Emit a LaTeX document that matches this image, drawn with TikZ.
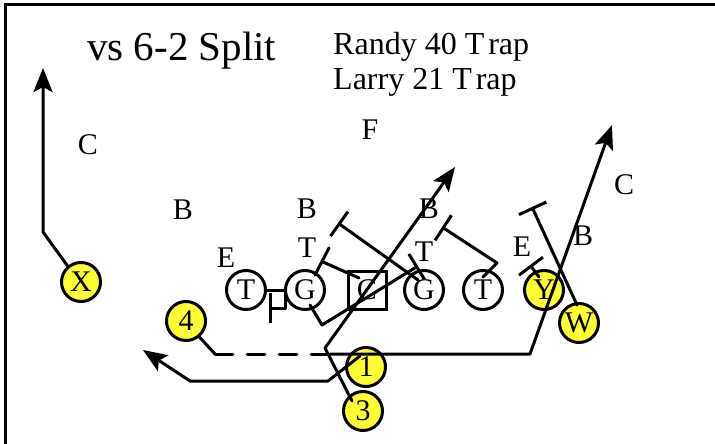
\documentclass[tikz,border=0pt]{standalone}
\usepackage{fontspec}
\setmainfont{Liberation Serif}
\usetikzlibrary{arrows.meta}
\definecolor{plyellow}{RGB}{255,255,51}
\tikzset{
  x=1pt, y=-1pt,
  route/.style={line width=3pt, line cap=round, line join=round},
  arr/.style={route, -{Stealth[length=24pt,width=19pt,inset=5pt]}},
  blk/.style={route, -{Bar[width=30pt]}},
  lbl/.style={font=\fontsize{30}{32}\selectfont, inner sep=0pt},
  lineman/.style={circle, draw, line width=3pt, fill=white, minimum size=39pt, inner sep=0pt, font=\fontsize{30}{32}\selectfont},
  ctr/.style={rectangle, draw, line width=3pt, fill=white, minimum size=38pt, inner sep=0pt, font=\fontsize{30}{32}\selectfont},
  back/.style={lineman, fill=plyellow},
}
\begin{document}
\begin{tikzpicture}
\useasboundingbox (0,0) rectangle (715,444);
% frame
\coordinate (f1) at (5.5,444);
\coordinate (f2) at (5.5,5);
\coordinate (f3) at (715,5);
\draw[line width=3pt] (f1) -- (f2) -- (f3);
% titles
\node[anchor=base west, inner sep=0pt, font=\fontsize{41}{44}\selectfont] (title) at (87,60) {vs 6-2 Split};
\node[anchor=base west, inner sep=0pt, font=\fontsize{32}{34}\selectfont] (play1) at (333,55) {Randy 40 T\kern4pt rap};
\node[anchor=base west, inner sep=0pt, font=\fontsize{32}{34}\selectfont] (play2) at (333,89) {Larry 21 T\kern4pt rap};
% defense labels
\node[lbl] (dC1) at (88,145) {C};
\node[lbl] (dF) at (370,130) {F};
\node[lbl] (dB1) at (183,210) {B};
\node[lbl] (dB2) at (307,209) {B};
\node[lbl] (dB3) at (429,209) {B};
\node[lbl] (dB4) at (583,236) {B};
\node[lbl] (dC2) at (624,185) {C};
\node[lbl] (dE1) at (226,258) {E};
\node[lbl] (dT1) at (307,248) {T};
\node[lbl] (dT2) at (424,252) {T};
\node[lbl] (dE2) at (522,247) {E};
% offense
\node[lineman] (OT1) at (246,290) {T};
\node[lineman] (OG1) at (305,290) {G};
\node[ctr] (OC) at (367,290) {C};
\node[lineman] (OG2) at (424,290) {G};
\node[lineman] (OT2) at (483,290) {T};
\node[back] (X) at (81,282) {X};
\node[back] (Y) at (544,290) {Y};
\node[back] (W) at (579,323) {W};
\node[back] (P4) at (186,321) {4};
\node[back] (P1) at (366,367) {1};
\node[back] (P3) at (363,411) {3};
% X route
\coordinate (xa) at (43,232);
\coordinate (xt) at (43,68);
\draw[arr] (X.130) -- (xa) -- (xt);
% left tackle
\coordinate (t1a) at (285,290);
\coordinate (t1b) at (285,308);
\coordinate (t1c) at (269,308);
\draw[blk] (OT1.east) -- (t1a) -- (t1b) -- (t1c);
% left guard
\coordinate (g1s) at (315,275);
\coordinate (g1e) at (329,248);
\draw[route] (g1s) -- (g1e);
% center
\coordinate (cs) at (359,278);
\coordinate (ce) at (323,262);
\draw[route] (cs) -- (ce);
% right guard
\coordinate (g2s) at (418,280);
\coordinate (g2e) at (338,223);
\draw[blk] (g2s) -- (g2e);
% right tackle
\coordinate (t2s) at (483,277);
\coordinate (t2a) at (497,263);
\coordinate (t2e) at (442,227);
\draw[blk] (t2s) -- (t2a) -- (t2e);
% trap
\coordinate (trs) at (310,305);
\coordinate (tra) at (322,325);
\coordinate (tre) at (418,266);
\draw[blk] (trs) -- (tra) -- (tre);
% Y
\coordinate (ys) at (539,277);
\coordinate (ye) at (530,265);
\draw[blk] (ys) -- (ye);
% W
\coordinate (ws) at (577,305);
\coordinate (we) at (532,207);
\draw[blk] (ws) -- (we);
% 3
\coordinate (p3s) at (352,401);
\coordinate (p3a) at (325,348);
\coordinate (p3e) at (455,167);
\draw[arr] (p3s) -- (p3a) -- (p3e);
% 1
\coordinate (p1s) at (360,356);
\coordinate (p1a) at (328,381);
\coordinate (p1b) at (190,381);
\coordinate (p1e) at (143,350);
\draw[arr] (p1s) -- (p1a) -- (p1b) -- (p1e);
% 4
\coordinate (p4a) at (215,354);
\coordinate (p4b) at (330,354);
\coordinate (p4c) at (530,354);
\coordinate (p4e) at (612,125);
\draw[route] (P4.-50) -- (p4a);
\draw[route, dash pattern=on 18pt off 14pt] (p4a) -- (p4b);
\draw[arr] (p4b) -- (p4c) -- (p4e);
\end{tikzpicture}
\end{document}
